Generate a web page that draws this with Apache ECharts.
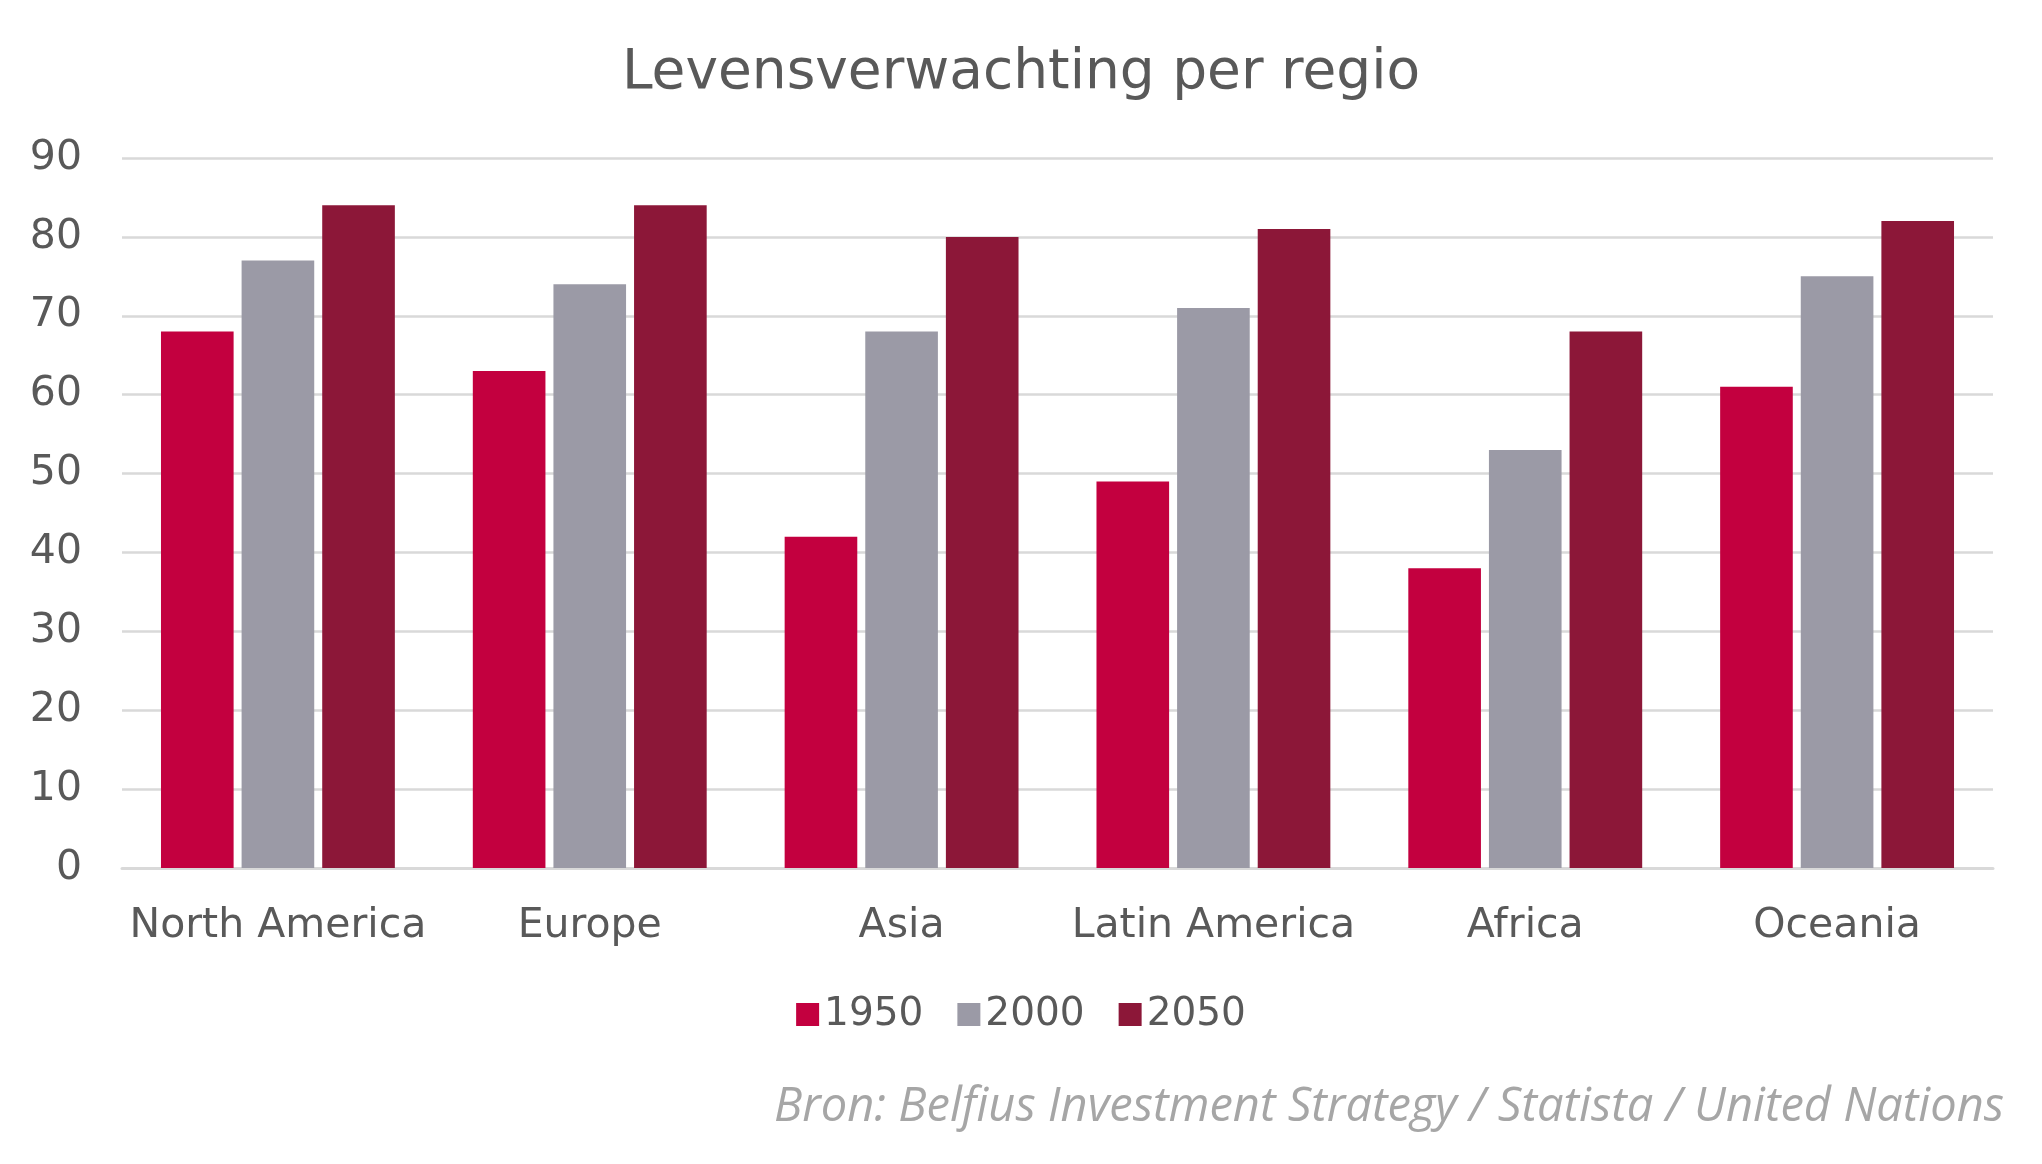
<!DOCTYPE html>
<html>
<head>
<meta charset="utf-8">
<script src="https://cdn.jsdelivr.net/npm/echarts@6/dist/echarts.min.js"></script>
<style>
html,body{margin:0;padding:0;background:#fff;}
#chart{width:2042px;height:1164px;}
</style>
</head>
<body>
<div id="chart"></div>
<script>
const categories = ['North America', 'Europe', 'Asia', 'Latin America', 'Africa', 'Oceania'];
const seriesNames = ['1950', '2000', '2050'];
const values1950 = [68, 63, 42, 49, 38, 61];
const values2000 = [77, 74, 68, 71, 53, 75];
const values2050 = [84, 84, 80, 81, 68, 82];
const yTicks = [0, 10, 20, 30, 40, 50, 60, 70, 80, 90];
const colors = ['#C3003F', '#9B9AA6', '#8C1738'];

const chart = echarts.init(document.getElementById('chart'));
const font = 'DejaVu Sans';
const allValues = [values1950, values2000, values2050];
chart.setOption({
  backgroundColor: '#ffffff',
  animation: false,
  title: {
    text: 'Levensverwachting per regio',
    left: 'center',
    top: 41,
    textStyle: { fontFamily: font, fontSize: 55, fontWeight: 'normal', color: '#595959' }
  },
  legend: {
    data: seriesNames,
    left: 'center',
    top: 990,
    itemWidth: 23,
    itemHeight: 23,
    itemGap: 34,
    icon: 'rect',
    textStyle: { fontFamily: font, fontSize: 39, color: '#595959' }
  },
  grid: { left: 122, right: 49, top: 158, bottom: 296, containLabel: false },
  xAxis: {
    type: 'category',
    data: categories,
    axisLine: { lineStyle: { color: '#D9D9D9', width: 3 } },
    axisTick: { show: false },
    axisLabel: { interval: 0, fontFamily: font, fontSize: 41, color: '#595959', margin: 38 }
  },
  yAxis: {
    type: 'value',
    min: yTicks[0],
    max: yTicks[yTicks.length - 1],
    interval: 10,
    axisLine: { show: false },
    axisTick: { show: false },
    splitLine: { lineStyle: { color: '#D9D9D9', width: 2.5 } },
    axisLabel: { fontFamily: font, fontSize: 41, color: '#595959', margin: 40 }
  },
  series: seriesNames.map((name, i) => ({
    name: name,
    type: 'bar',
    data: allValues[i],
    barGap: '11%',
    barCategoryGap: '25%',
    itemStyle: { color: colors[i] }
  })),
  graphic: [{
    type: 'text',
    right: 38,
    top: 1084,
    style: {
      text: 'Bron: Belfius Investment Strategy / Statista / United Nations',
      fontFamily: 'Open Sans',
      fontStyle: 'italic',
      fontSize: 47,
      fill: '#A6A6A6'
    }
  }]
});
</script>
</body>
</html>
